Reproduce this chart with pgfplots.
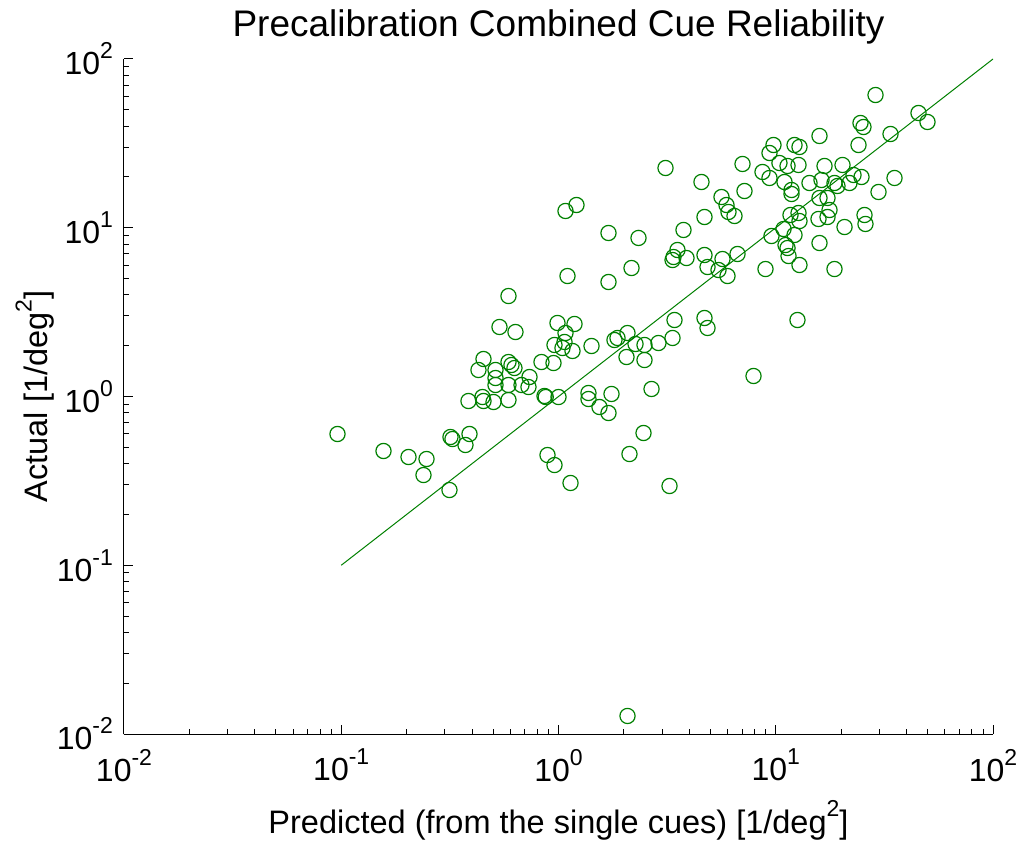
\documentclass[border=0pt]{standalone}
\usepackage{pgfplots}
\pgfplotsset{compat=1.18}
\usepackage{fontspec}
\setmainfont{Liberation Sans}
\definecolor{mg}{RGB}{0,128,0}
\newcommand{\supx}[1]{\raisebox{0.5em}{\fontsize{11.5}{12}\selectfont #1}}
\begin{document}
\begin{tikzpicture}
\path[use as bounding box] (-62pt,-53.5pt) rectangle (449.5pt,367pt);
\begin{axis}[
 at={(0,0)}, anchor=south west,
 scale only axis, width=434.5pt, height=337.5pt,
 xmode=log, ymode=log,
 xmin=0.01, xmax=100, ymin=0.01, ymax=100,
 axis x line*=bottom, axis y line*=left,
 axis line style={-, line width=0.5pt},
 tick align=inside,
 major tick length=4.5pt, minor tick length=2.5pt,
 every tick/.style={black, line width=0.5pt},
 xtick={0.01,0.1,1,10,100},
 ytick={0.01,0.1,1,10,100},
 xticklabels={10\supx{-2},10\supx{-1},10\supx{0},10\supx{1},10\supx{2}},
 yticklabels={10\supx{-2},10\supx{-1},10\supx{0},10\supx{1},10\supx{2}},
 tick label style={font=\fontsize{16}{18}\selectfont},
 xticklabel style={yshift=-4pt},
 yticklabel style={xshift=-2pt},
 title={Precalibration Combined Cue Reliability},
 title style={font=\fontsize{18.5}{22}\selectfont, at={(axis description cs:0.5,1.0149)}, anchor=base},
 xlabel={Predicted (from the single cues) [1/deg\supx{2}]},
 ylabel={Actual [1/deg\supx{2}]},
 label style={font=\fontsize{16.25}{18}\selectfont},
 xlabel style={at={(axis description cs:0.5,-0.1467)}, anchor=base},
 ylabel style={at={(axis description cs:-0.1024,0.5)}, anchor=center},
]
\addplot[mg, line width=0.5pt, no marks] coordinates {(0.1,0.1) (100,100)};
\addplot[only marks, mark=o, mark size=3.8pt, mg, mark options={line width=0.6pt}] table {
x y
0.0961 0.5995
0.1565 0.4754
0.2040 0.4380
0.2469 0.4262
0.2391 0.3425
0.3149 0.2792
0.3183 0.5754
0.3251 0.5598
0.3894 0.5995
0.3731 0.5160
0.3852 0.9404
0.4468 0.993
0.4516 0.9404
0.5022 0.9278
0.5886 0.9535
0.4282 1.436
0.4516 1.668
0.5129 1.436
0.5129 1.287
0.5129 1.170
0.5886 1.601
0.6075 1.537
0.6271 1.475
0.5886 1.170
0.7355 1.305
0.6757 1.170
0.7275 1.138
0.8350 1.601
0.9484 1.579
0.8620 1.007
0.8737 0.993
1.0 0.993
0.5350 2.582
0.6338 2.411
0.5886 3.940
0.9894 2.727
1.185 2.690
1.077 2.378
0.9585 2.020
1.066 2.104
1.043 1.938
1.160 1.861
1.100 5.176
1.699 4.770
2.168 5.773
1.419 1.992
1.810 2.162
1.869 2.222
2.078 2.378
2.262 2.047
2.056 1.714
2.488 2.020
2.488 1.645
1.374 1.049
1.374 0.9665
1.544 0.8665
1.699 0.7984
1.754 1.035
2.680 1.108
2.462 0.6078
2.122 0.4562
0.8900 0.4500
0.9585 0.3926
1.136 0.3073
3.244 0.2949
2.078 0.01279
1.077 12.57
1.210 13.64
1.699 9.31
2.335 8.70
3.109 22.60
4.551 18.67
4.699 11.58
3.762 9.70
3.349 2.222
2.885 2.075
3.420 2.840
4.699 2.919
4.852 2.547
7.901 1.323
12.59 2.840
3.529 7.383
3.384 6.708
3.349 6.439
3.883 6.617
4.699 6.895
4.852 5.852
5.451 5.618
5.997 5.176
5.687 6.527
6.668 6.990
5.627 15.21
5.933 13.64
6.060 12.40
6.459 11.74
7.031 23.87
7.181 16.51
8.970 5.694
9.559 8.935
10.86 9.83
12.20 9.06
11.09 7.90
11.33 7.586
11.45 6.80
12.86 6.016
15.90 8.12
18.64 5.694
11.69 11.90
12.73 12.23
12.86 10.96
15.73 11.27
17.31 11.58
20.73 10.10
25.62 11.90
25.88 10.53
15.90 15.01
17.31 15.01
17.68 12.74
14.30 18.42
16.24 19.19
16.77 23.23
20.29 23.55
18.64 18.42
21.85 18.42
24.81 19.99
29.72 16.29
35.21 19.72
11.82 16.74
11.82 15.85
10.97 18.67
9.359 19.72
8.690 21.40
10.40 24.19
11.33 23.23
12.73 23.55
9.763 30.93
9.359 27.73
12.20 30.93
12.86 30.10
15.90 34.98
24.04 30.93
24.55 41.76
25.34 39.54
33.75 35.94
28.79 61.18
45.40 47.86
49.94 42.34
22.80 20.54
19.24 17.68
};
\end{axis}
\end{tikzpicture}
\end{document}
